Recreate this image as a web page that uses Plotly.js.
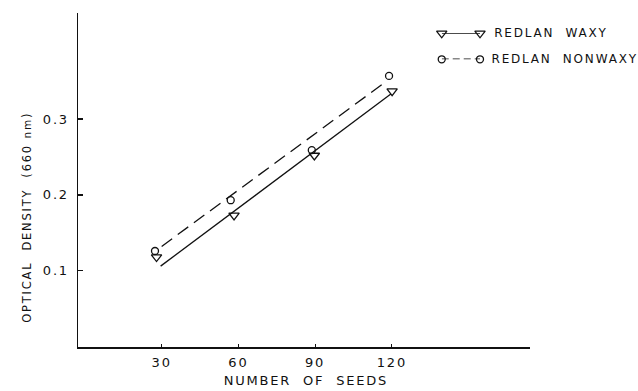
<!DOCTYPE html>
<html>
<head>
<meta charset="utf-8">
<script src="https://cdn.plot.ly/plotly-3.0.1.min.js"></script>
<style>
  html, body { margin: 0; padding: 0; background: #fff; }
  #chart { width: 638px; height: 391px; }
  .main-svg text { letter-spacing: 1.8px; }
</style>
</head>
<body>
<div id="chart"></div>
<script>
// Measured points
const waxySeeds = [28.0, 58.3, 89.7, 120.1];
const waxyOD = [0.118, 0.173, 0.252, 0.337];
const nonwaxySeeds = [27.4, 57.0, 88.7, 118.9];
const nonwaxyOD = [0.126, 0.193, 0.259, 0.357];
// Fitted lines (end points)
const waxyLineSeeds = [29.6, 119.6];
const waxyLineOD = [0.106, 0.333];
const nonwaxyLineSeeds = [30.0, 116.7];
const nonwaxyLineOD = [0.132, 0.347];
// Ticks
const xTicks = [30, 60, 90, 120];
const xTickText = ['30', '60', '90', '120'];
const yTicks = [0.1, 0.2, 0.3];
const yTickText = ['0.1', '0.2', '0.3'];
// Legend
const legendNames = ['REDLAN  WAXY', 'REDLAN  NONWAXY'];

const ink = '#111';
const font = { family: 'DejaVu Sans, Liberation Sans, sans-serif', size: 11, color: ink };

const traces = [
  { x: waxyLineSeeds, y: waxyLineOD, mode: 'lines', line: { color: ink, width: 1.3 }, hoverinfo: 'skip' },
  { x: nonwaxyLineSeeds, y: nonwaxyLineOD, mode: 'lines', line: { color: ink, width: 1.3, dash: '13px,7px' }, hoverinfo: 'skip' },
  { x: waxySeeds, y: waxyOD, mode: 'markers', marker: { symbol: 'triangle-down-open', size: 9, color: ink, line: { width: 1.3, color: ink } } },
  { x: nonwaxySeeds, y: nonwaxyOD, mode: 'markers', marker: { symbol: 'circle-open', size: 7, color: ink, line: { width: 1.3, color: ink } } },
  // custom legend samples
  { x: [0, 1], y: [1, 1], xaxis: 'x2', yaxis: 'y2', mode: 'lines+markers', cliponaxis: false,
    line: { color: ink, width: 1.3 },
    marker: { symbol: 'triangle-down-open', size: 9, color: ink, line: { width: 1.3, color: ink } } },
  { x: [0, 1], y: [0, 0], xaxis: 'x2', yaxis: 'y2', mode: 'lines+markers', cliponaxis: false,
    line: { color: ink, width: 1.5, dash: '7px,4px' },
    marker: { symbol: 'circle-open', size: 7, color: ink, line: { width: 1.3, color: ink } } }
];

const layout = {
  width: 638, height: 391,
  margin: { l: 78, r: 108, t: 13, b: 44 },
  paper_bgcolor: '#fff', plot_bgcolor: '#fff',
  showlegend: false,
  font: font,
  xaxis: {
    range: [-2.7, 174], showgrid: false, zeroline: false,
    showline: true, linecolor: ink, linewidth: 1.5,
    ticks: 'inside', ticklen: 3, tickwidth: 1.2, tickcolor: ink,
    tickvals: xTicks, ticktext: xTickText, tickfont: { size: 13 },
    ticklabelstandoff: 3
  },
  yaxis: {
    range: [-0.0007, 0.44], showgrid: false, zeroline: false,
    showline: true, linecolor: ink, linewidth: 1.5,
    ticks: 'inside', ticklen: 5, tickwidth: 1.5, tickcolor: ink,
    tickvals: yTicks, ticktext: yTickText, tickfont: { size: 13 },
    ticklabelstandoff: 5
  },
  xaxis2: { domain: [0.8047, 0.8894], range: [0, 1], visible: false, fixedrange: true, anchor: 'y2' },
  yaxis2: { domain: [0.8614, 0.9392], range: [0, 1], visible: false, fixedrange: true, anchor: 'x2' },
  annotations: [
    { text: legendNames[0], xref: 'paper', yref: 'paper', x: 0.926, xshift: 6, y: 0.9392, xanchor: 'left', yanchor: 'middle', showarrow: false, font: { size: 12 } },
    { text: legendNames[1], xref: 'paper', yref: 'paper', x: 0.926, xshift: 6, y: 0.8614, xanchor: 'left', yanchor: 'middle', showarrow: false, font: { size: 12 } },
    { text: 'NUMBER  OF  SEEDS', xref: 'paper', yref: 'paper', x: 0.504, y: -0.1, xanchor: 'center', yanchor: 'middle', showarrow: false, font: { size: 13 } },
    { text: 'OPTICAL  DENSITY  (660 <span style="font-size:10.5px">nm</span>)', xref: 'paper', yref: 'paper', x: -0.112, y: 0.389, xanchor: 'center', yanchor: 'middle', textangle: -90, showarrow: false, font: { size: 11.5 } }
  ]
};

Plotly.newPlot('chart', traces, layout, { staticPlot: true, displayModeBar: false });
</script>
</body>
</html>
